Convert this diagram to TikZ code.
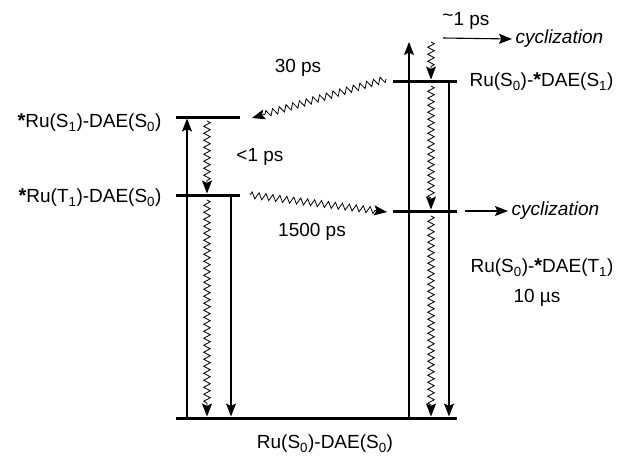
\documentclass[tikz,border=0pt]{standalone}
\usepackage{fontspec}
\setmainfont{Liberation Sans}
\usetikzlibrary{arrows.meta, calc, decorations.pathmorphing}

\newcommand{\exc}{{\fontsize{20}{20}\selectfont\bfseries *}}

\begin{document}
\begin{tikzpicture}[x=1pt, y=-1pt,
    font=\fontsize{19}{22}\selectfont,
    level/.style={line width=3pt},
    rad/.style={line width=1.1pt, -{Stealth[length=13pt, width=10pt, inset=2.5pt]}},
    nonrad/.style={line width=0.8pt, -{Stealth[length=13pt, width=10pt, inset=2.5pt]}, decorate,
        decoration={zigzag, amplitude=3.3pt, segment length=7pt, post length=11pt}}]
    \useasboundingbox (0,0) rectangle (619,458);

    % Levels
    \coordinate (gnd) at (176,418);  \coordinate (gndE) at (457,418);
    \coordinate (sL) at (176,117);   \coordinate (sLE) at (240,117);
    \coordinate (tL) at (176,195);   \coordinate (tLE) at (240,195);
    \coordinate (sR) at (393,81);    \coordinate (sRE) at (457,81);
    \coordinate (tR) at (393,211);   \coordinate (tRE) at (457,211);
    \foreach \a/\b in {gnd/gndE, sL/sLE, tL/tLE, sR/sRE, tR/tRE}
        \draw[level] (\a) -- (\b);

    % Columns
    \coordinate (c1) at (187,0);
    \coordinate (c2) at (207,0);
    \coordinate (c3) at (231,0);
    \coordinate (c4) at (409,0);
    \coordinate (c5) at (431,0);
    \coordinate (c6) at (449,0);
    \coordinate (top) at (0,42);

    % Absorption and emission
    \draw[rad] (c1 |- gnd) -- ($(c1 |- sL)+(0,1.5)$);
    \draw[rad] (c3 |- tL) -- ($(c3 |- gnd)+(0,-1.5)$);
    \draw[rad] (c4 |- gnd) -- (c4 |- top);
    \draw[rad] (c6 |- sR) -- ($(c6 |- gnd)+(0,-1.5)$);

    % Radiationless decay
    \draw[nonrad] ($(c2 |- sL)+(0,4)$) -- ($(c2 |- tL)+(0,-1.5)$);
    \draw[nonrad] ($(c2 |- tL)+(0,5)$) -- ($(c2 |- gnd)+(0,-1.5)$);
    \draw[nonrad] (c5 |- top) -- ($(c5 |- sR)+(0,-1.5)$);
    \draw[nonrad] ($(c5 |- sR)+(0,5)$) -- ($(c5 |- tR)+(0,-1.5)$);
    \draw[nonrad] ($(c5 |- tR)+(0,5)$) -- ($(c5 |- gnd)+(0,-1.5)$);

    % Energy transfer
    \coordinate (etA) at (386,79);  \coordinate (etB) at (252,118);
    \coordinate (etC) at (250,195); \coordinate (etD) at (387,212);
    \draw[nonrad] (etA) -- (etB);
    \draw[nonrad] (etC) -- (etD);
    \node (ps30) at (298,68) {30 ps};
    \node (ps1500) at (312,232) {1500 ps};
    \node (ps1) at (260,157) {<1 ps};

    % Cyclization
    \node[anchor=west, font=\fontsize{19}{22}\selectfont\itshape] (cycA) at (512,39) {cyclization};
    \node[anchor=west, font=\fontsize{19}{22}\selectfont\itshape] (cycB) at (508,211) {cyclization};
    \coordinate (cycAs) at (443,38);
    \coordinate (cycBs) at (465,211);
    \draw[rad] (cycAs) -- (cycA.west);
    \draw[rad] (cycBs) -- (cycB.west);
    \node (fast) at (466,21) {\raisebox{0.2em}{\textasciitilde}1 ps};

    % State labels
    \node[anchor=east] (labS1) at (165,123) {\exc Ru(S\textsubscript{1})-DAE(S\textsubscript{0})};
    \node[anchor=east] (labT1) at (165,198) {\exc Ru(T\textsubscript{1})-DAE(S\textsubscript{0})};
    \node[anchor=west] (labRS1) at (466,82) {Ru(S\textsubscript{0})-\exc DAE(S\textsubscript{1})};
    \node (labRT1) at (542,268) {Ru(S\textsubscript{0})-\exc DAE(T\textsubscript{1})};
    \node (life) at (537,298) {10 µs};
    \node (labG) at (325,444) {Ru(S\textsubscript{0})-DAE(S\textsubscript{0})};
\end{tikzpicture}
\end{document}
